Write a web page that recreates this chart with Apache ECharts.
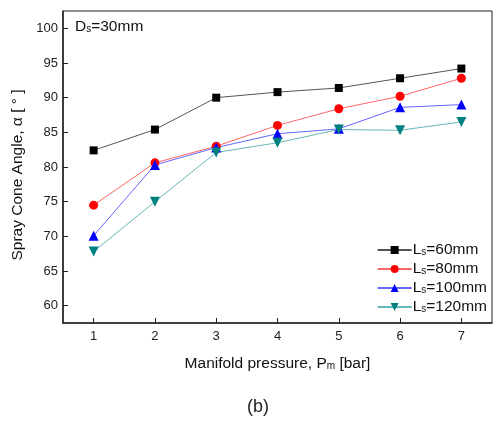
<!DOCTYPE html>
<html lang="en">
    <head>
        <meta charset="UTF-8" />
        <script src="https://cdn.jsdelivr.net/npm/echarts@6/dist/echarts.min.js"></script>
        <title>Spray Cone Angle</title>
        <style>
            body { margin: 0; background: #fff; }
            #chart { width: 494px; height: 422px; }
        </style>
    </head>
    <body>
        <div id="chart"></div>
        <script type="text/javascript">
            // manifold pressure (bar)
            var pressure = [1, 2, 3, 4, 5, 6, 7];
            var yTicks = [60, 65, 70, 75, 80, 85, 90, 95, 100];

            var ls60 = [82.4, 85.4, 90.0, 90.8, 91.4, 92.8, 94.2];
            var ls80 = [74.5, 80.6, 83.0, 86.0, 88.4, 90.2, 92.8];
            var ls100 = [70.1, 80.3, 82.8, 84.8, 85.5, 88.6, 89.0];
            var ls120 = [67.8, 75.0, 82.1, 83.5, 85.4, 85.3, 86.5];

            var seriesNames = ["Ls=60mm", "Ls=80mm", "Ls=100mm", "Ls=120mm"];

            var font = "Liberation Sans, Arial, sans-serif";
            var chart = echarts.init(document.getElementById("chart"));

            function pairs(vals) {
                return pressure.map(function (p, i) { return [p, vals[i]]; });
            }

            function makeSeries(name, vals, color, lineColor, symbol, size, rotate) {
                return {
                    name: name,
                    type: "line",
                    data: pairs(vals),
                    symbol: symbol,
                    symbolSize: size,
                    symbolRotate: rotate || 0,
                    itemStyle: { color: color },
                    lineStyle: { color: lineColor, width: 1 },
                    emphasis: { disabled: true },
                    animation: false,
                };
            }

            var sub = { fontSize: 10, fontFamily: font, padding: [5, 0, 0, 0], color: "#111" };

            var option = {
                backgroundColor: "#fff",
                textStyle: { fontFamily: font },
                title: [
                    {
                        text: "D{s|s}=30mm",
                        left: 70,
                        top: 14,
                        textStyle: {
                            fontFamily: font, fontSize: 15.5, fontWeight: "normal", color: "#111",
                            rich: { s: sub },
                        },
                    },
                    {
                        text: "(b)",
                        left: 242,
                        top: 393,
                        textStyle: { fontFamily: font, fontSize: 18, fontWeight: "normal", color: "#222" },
                    },
                ],
                legend: {
                    orient: "vertical",
                    right: 2,
                    top: 237,
                    itemWidth: 34,
                    itemHeight: 10,
                    itemGap: 3,
                    data: seriesNames,
                    formatter: function (n) {
                        return "L{s|s}" + n.slice(2);
                    },
                    textStyle: {
                        fontFamily: font, fontSize: 15.5, color: "#111", padding: [0, 0, 0, -4],
                        rich: { s: sub },
                    },
                },
                grid: {
                    left: 63,
                    top: 11,
                    right: 2,
                    bottom: 99,
                    show: true,
                    borderColor: "#222",
                    borderWidth: 1,
                    containLabel: false,
                },
                xAxis: {
                    type: "value",
                    min: 0.5,
                    max: 7.5,
                    name: "Manifold pressure, P{s|m} [bar]",
                    nameLocation: "middle",
                    nameGap: 33,
                    nameTextStyle: {
                        fontFamily: font, fontSize: 15.5, color: "#111",
                        rich: { s: sub },
                    },
                    axisLine: { show: true, lineStyle: { color: "#222", width: 1.5 } },
                    axisTick: { show: true, inside: true, length: 5, customValues: pressure, lineStyle: { color: "#222" } },
                    axisLabel: { customValues: pressure, fontSize: 13, color: "#222", margin: 7, fontFamily: font },
                    splitLine: { show: false },
                },
                yAxis: {
                    type: "value",
                    min: 57.5,
                    max: 102.5,
                    name: "Spray Cone Angle, α [ ° ]",
                    nameLocation: "middle",
                    nameGap: 35,
                    nameTextStyle: { fontFamily: font, fontSize: 15.5, color: "#111", padding: [0, 16, 0, 0] },
                    axisLine: { show: true, lineStyle: { color: "#222", width: 1.5 } },
                    axisTick: { show: true, inside: true, length: 5, customValues: yTicks, lineStyle: { color: "#222" } },
                    axisLabel: { customValues: yTicks, fontSize: 13, color: "#222", margin: 5, fontFamily: font },
                    splitLine: { show: false },
                },
                series: [
                    makeSeries(seriesNames[0], ls60, "#000000", "#555555", "rect", 8),
                    makeSeries(seriesNames[1], ls80, "#ff0000", "#ff6666", "circle", 9),
                    makeSeries(seriesNames[2], ls100, "#0000ff", "#6666ff", "triangle", 10),
                    makeSeries(seriesNames[3], ls120, "#008080", "#66b8b8", "triangle", 10, 180),
                ],
            };

            chart.setOption(option);
        </script>
    </body>
</html>
